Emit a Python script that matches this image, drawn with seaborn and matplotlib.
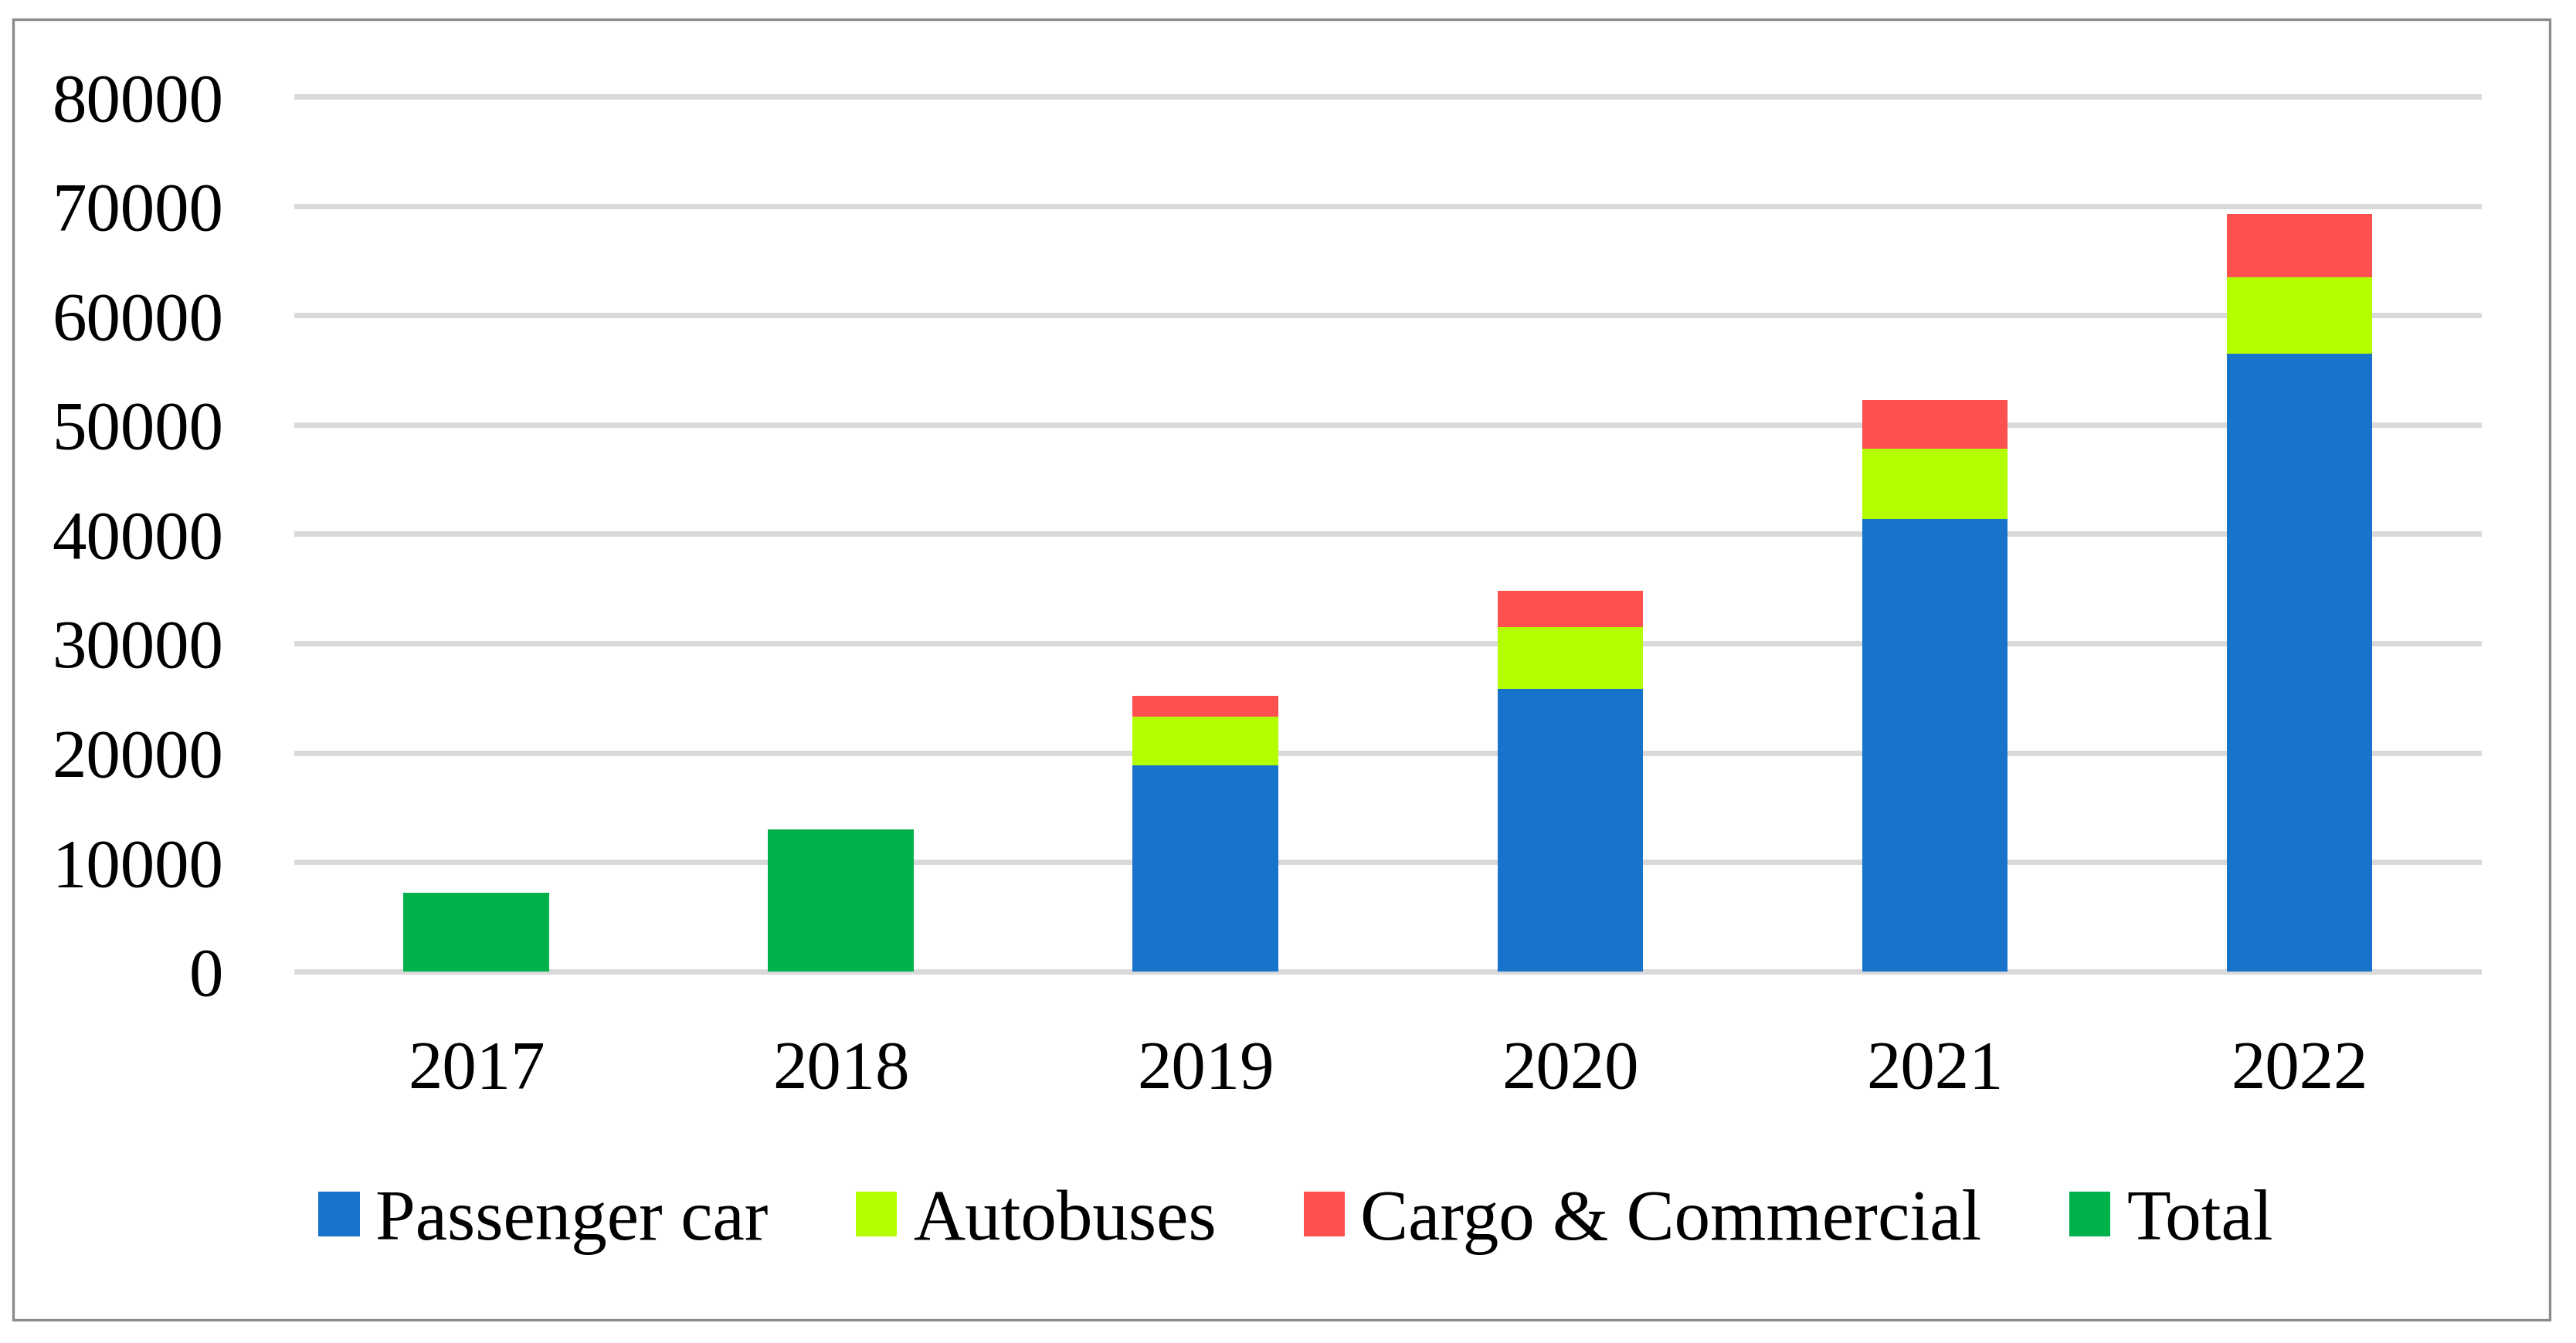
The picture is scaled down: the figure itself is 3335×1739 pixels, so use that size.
import numpy as np
import pandas as pd
import seaborn as sns
import matplotlib.pyplot as plt
from matplotlib.patches import Rectangle

# Values
years = ["2017", "2018", "2019", "2020", "2021", "2022"]
passenger = [0, 0, 18850, 25830, 41360, 56460]
autobuses = [0, 0, 4440, 5640, 6420, 7050]
cargo = [0, 0, 1900, 3320, 4440, 5790]
total = [7200, 13000, 0, 0, 0, 0]

df = pd.DataFrame({"year": years, "passenger": passenger,
                   "autobuses": autobuses, "cargo": cargo, "total": total})
# cumulative heights so the bars can be drawn back to front
df["cum_auto"] = df["passenger"] + df["autobuses"]
df["cum_cargo"] = df["cum_auto"] + df["cargo"]

sns.set_theme(style="white")
plt.rcParams["font.family"] = ["Liberation Serif", "DejaVu Serif"]
plt.rcParams["text.color"] = "black"

fig = plt.figure(figsize=(16.675, 8.695), dpi=200)
ax = fig.add_axes([0.1142, 0.2735, 0.8492, 0.6578])

w = 0.4
bar_kw = dict(width=w, saturation=1, ax=ax, linewidth=0, edgecolor="none")
sns.barplot(data=df, x="year", y="cum_cargo", color="#FF5050",
            label="Cargo & Commercial", **bar_kw)
sns.barplot(data=df, x="year", y="cum_auto", color="#B3FF00",
            label="Autobuses", **bar_kw)
sns.barplot(data=df, x="year", y="passenger", color="#1874CA",
            label="Passenger car", **bar_kw)
sns.barplot(data=df, x="year", y="total", color="#00B04A",
            label="Total", **bar_kw)

ax.set_ylim(-400, 80400)
ax.set_xlim(-0.5, 5.5)
ax.set_yticks(np.arange(0, 80001, 10000))
ax.yaxis.grid(True, color="#D9D9D9", linewidth=2.5)
ax.set_axisbelow(True)
for s in ax.spines.values():
    s.set_visible(False)
ax.set_xlabel("")
ax.set_ylabel("")
ax.tick_params(axis="y", length=0, pad=33, labelsize=32, labelcolor="black")
ax.tick_params(axis="x", length=0, pad=30, labelsize=32, labelcolor="black")

# legend in the Excel order
h, l = ax.get_legend_handles_labels()
order = ["Passenger car", "Autobuses", "Cargo & Commercial", "Total"]
hh = [h[l.index(o)] for o in order]
if ax.get_legend() is not None:
    ax.get_legend().remove()
fig.legend(hh, order, loc="center", bbox_to_anchor=(0.503, 0.090), ncol=4,
           frameon=False, fontsize=33.5, handlelength=0.57, handleheight=0.59,
           handletextpad=0.22, columnspacing=1.22, labelcolor="black")

# outer chart border
fig.patches.append(Rectangle((0.0051, 0.0173), 0.9847, 0.9684, transform=fig.transFigure,
                             fill=False, edgecolor="#8C8C8C", linewidth=1.2))

fig.savefig("out.png", dpi=200)
